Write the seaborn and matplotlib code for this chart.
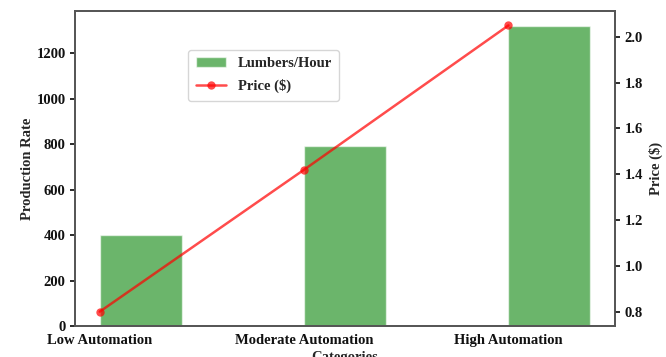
import matplotlib
matplotlib.use("Agg")
import matplotlib.pyplot as plt
import seaborn as sns
import numpy as np
import pandas as pd

categories = ["Low Automation", "Moderate Automation", "High Automation"]
lumbers_per_hour = [400, 790, 1320]
price = [0.80, 1.42, 2.05]

sns.set_theme(style="ticks")
plt.rcParams["font.family"] = ["Liberation Serif", "DejaVu Serif"]
plt.rcParams["font.weight"] = "bold"
plt.rcParams["axes.labelweight"] = "bold"

fig = plt.figure(figsize=(6.66, 3.57), dpi=100)
ax = fig.add_axes([0.113, 0.087, 0.81, 0.882])
x = np.arange(len(categories))
ax.bar(x, lumbers_per_hour, width=0.4, align="edge", color="green", alpha=0.58, label="Lumbers/Hour")
ax.set_ylabel("Production Rate", fontsize=10.5, fontweight="bold", labelpad=2)
ax.set_xlabel("Categories", fontsize=10.5, fontweight="bold", labelpad=3)
ax.set_xticks(x)
ax.set_xticklabels(categories, fontsize=10.5, fontweight="bold")
for t in ax.get_yticklabels():
    t.set_fontsize(10.5); t.set_fontweight("bold")

ax2 = ax.twinx()
df = pd.DataFrame({"x": x, "price": price})
sns.lineplot(data=df, x="x", y="price", ax=ax2, color="red", alpha=0.7, marker="o",
             markersize=6, markeredgewidth=0, linewidth=1.8, label="Price ($)", legend=False)
ax2.set_ylabel("Price ($)", fontsize=10.5, fontweight="bold")
for t in ax2.get_yticklabels():
    t.set_fontsize(10.5); t.set_fontweight("bold")
ax2.set_xlabel("")

for a in (ax, ax2):
    for s in a.spines.values():
        s.set_color("#555555")
    a.tick_params(colors="#111111", length=3.5)
ax.tick_params(axis="x", length=0, pad=6)

h1, l1 = ax.get_legend_handles_labels()
h2, l2 = ax2.get_legend_handles_labels()
ax.legend(h1 + h2, l1 + l2, loc="upper left", bbox_to_anchor=(0.196, 0.9),
          prop={"family": "Liberation Serif", "weight": "bold", "size": 10.5},
          framealpha=0.8, handlelength=2.1, labelspacing=0.6, borderpad=0.5)

fig.savefig("out.png", dpi=100)
